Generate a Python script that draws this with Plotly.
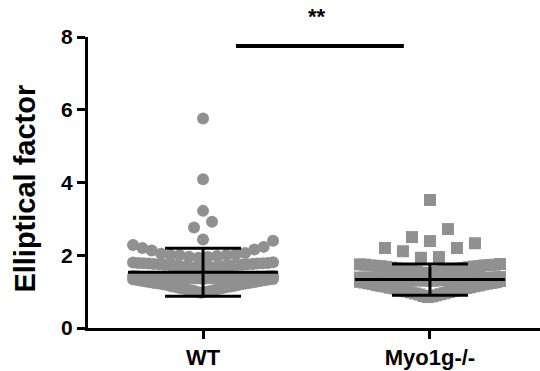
import plotly.graph_objects as go

# ---------------- data ----------------
categories = ["WT", "Myo1g-/-"]

wt_values = [
    0.97, 0.99, 1.00, 1.01, 1.03, 1.04, 1.05, 1.07, 1.08, 1.09, 1.10, 1.12,
    1.13, 1.14, 1.15, 1.16, 1.18, 1.19, 1.20, 1.21, 1.22, 1.23, 1.24, 1.25,
    1.26, 1.27, 1.28, 1.29, 1.30, 1.31, 1.32, 1.33, 1.34, 1.35,
    1.36, 1.36, 1.36, 1.37, 1.37, 1.37, 1.37, 1.38, 1.38, 1.38, 1.38, 1.38,
    1.39, 1.39, 1.39, 1.39, 1.39, 1.40, 1.40, 1.40, 1.40, 1.40, 1.41, 1.41,
    1.41, 1.41, 1.42, 1.42, 1.43, 1.43,
    1.64, 1.65, 1.66, 1.67, 1.68, 1.68, 1.69, 1.70, 1.70, 1.71, 1.72, 1.72,
    1.73, 1.73, 1.74, 1.74, 1.75, 1.75, 1.76, 1.76, 1.77, 1.77, 1.78, 1.78,
    1.79, 1.79, 1.80, 1.81,
    1.93, 1.95, 1.96, 1.98, 2.00, 2.00, 2.01, 2.02, 2.04, 2.06, 2.13, 2.16,
    2.20, 2.23, 2.28, 2.40,
    2.43, 2.76, 2.92, 3.22, 4.09, 5.76,
]

myo_values = [
    0.85, 0.87, 0.88, 0.90, 0.92, 0.93, 0.95, 0.96, 0.98, 0.99, 1.01, 1.02,
    1.03, 1.05, 1.06, 1.07, 1.09, 1.10, 1.11, 1.12, 1.14, 1.15, 1.16, 1.17,
    1.18, 1.20, 1.21, 1.22, 1.23, 1.24, 1.25, 1.26, 1.27, 1.29,
    1.30, 1.30, 1.31, 1.31, 1.31, 1.32, 1.32, 1.32, 1.33, 1.33, 1.33, 1.34,
    1.34, 1.34, 1.35, 1.35, 1.35, 1.35, 1.36, 1.36, 1.36, 1.37, 1.37, 1.37,
    1.38, 1.38, 1.38, 1.39, 1.39, 1.40,
    1.50, 1.51, 1.52, 1.54, 1.55, 1.56, 1.58, 1.59, 1.60, 1.61, 1.62, 1.63,
    1.64, 1.65, 1.66, 1.67, 1.68, 1.69, 1.70, 1.70, 1.71, 1.72, 1.72, 1.73,
    1.74, 1.74, 1.75, 1.76,
    1.93, 1.95, 2.11, 2.20, 2.20, 2.33,
    2.39, 2.50, 2.72,
    3.52,
]

mean_vals = [1.53, 1.33]
sd_vals = [0.66, 0.43]
y_tick_vals = [0, 2, 4, 6, 8]
y_tick_text = ["0", "2", "4", "6", "8"]
sig_label = "**"
sig_level = 7.75

# ---------------- layout parameters ----------------
W, H = 540, 371
M_L, M_R, M_T, M_B = 88, 0, 37, 43
X_RANGE = [-0.507, 1.485]
Y_RANGE = [0, 8]
PX_PER_X = (W - M_L - M_R) / (X_RANGE[1] - X_RANGE[0])

GRAY = "#909090"
FONT = "Liberation Sans, Arial, sans-serif"
ROW_WIDTH_PX = 140.0
MAX_STEP_PX = 18.0
wt_row_edges = [0.9, 1.355, 1.5, 1.9, 2.415, 2.6, 3.1, 3.6, 5.0, 7.0]
myo_row_edges = [0.8, 1.295, 1.45, 1.9, 2.35, 2.8, 4.0]


def swarm_offsets(values, edges):
    """Column-scatter layout: points binned in rows, lowest values in the middle."""
    offs = [0.0] * len(values)
    order = sorted(range(len(values)), key=lambda i: values[i])
    for lo, hi in zip(edges[:-1], edges[1:]):
        members = [i for i in order if lo <= values[i] < hi]
        n = len(members)
        if n == 0:
            continue
        step = MAX_STEP_PX if n == 1 else min(MAX_STEP_PX, ROW_WIDTH_PX / (n - 1))
        for k, i in enumerate(members):
            if n % 2 == 1:
                pos = ((k + 1) // 2) * (-1 if k % 2 == 1 else 1)
            else:
                pos = (k // 2 + 0.5) * (-1 if k % 2 == 0 else 1)
            offs[i] = pos * step / PX_PER_X
    return offs


fig = go.Figure()

groups = [
    (wt_values, wt_row_edges, "circle"),
    (myo_values, myo_row_edges, "square"),
]
for ci, (vals, edges, sym) in enumerate(groups):
    offs = swarm_offsets(vals, edges)
    fig.add_trace(go.Scatter(
        x=[ci + o for o in offs], y=vals, mode="markers",
        marker=dict(symbol=sym, size=12, color=GRAY, line=dict(width=0)),
        showlegend=False, hoverinfo="skip", cliponaxis=False,
    ))

MEAN_HALF = 75.0 / PX_PER_X
CAP_HALF = 38.0 / PX_PER_X
for ci, (m, s) in enumerate(zip(mean_vals, sd_vals)):
    xs = [ci - MEAN_HALF, ci + MEAN_HALF, None,
          ci, ci, None,
          ci - CAP_HALF, ci + CAP_HALF, None,
          ci - CAP_HALF, ci + CAP_HALF]
    ys = [m, m, None,
          m - s, m + s, None,
          m + s, m + s, None,
          m - s, m - s]
    fig.add_trace(go.Scatter(
        x=xs, y=ys, mode="lines", line=dict(color="black", width=3),
        showlegend=False, hoverinfo="skip", cliponaxis=False,
    ))

# significance bar
fig.add_shape(type="line", xref="x", yref="y", x0=0.145, x1=0.885,
              y0=sig_level, y1=sig_level, line=dict(color="black", width=4))
fig.add_annotation(x=0.5, xref="x", y=1.07, yref="paper", text="<b>" + sig_label + "</b>",
                   showarrow=False, xanchor="center", yanchor="middle",
                   font=dict(family=FONT, size=22, color="black"))

# y-axis title
fig.add_annotation(x=(25 - M_L) / (W - M_L - M_R), xref="paper", y=0.479, yref="paper",
                   text="<b>Elliptical factor</b>", textangle=-90, showarrow=False,
                   xanchor="center", yanchor="middle",
                   font=dict(family=FONT, size=29, color="black"))

axis_common = dict(showline=True, linewidth=3, linecolor="black", ticks="outside",
                   ticklen=8, tickwidth=3, tickcolor="black", showgrid=False,
                   zeroline=False, fixedrange=True)

fig.update_layout(
    width=W, height=H,
    margin=dict(l=M_L, r=M_R, t=M_T, b=M_B, pad=0),
    plot_bgcolor="white", paper_bgcolor="white",
    xaxis=dict(range=X_RANGE, tickvals=[0, 1],
               ticktext=["<b>" + c + "</b>" for c in categories],
               tickfont=dict(family=FONT, size=22, color="black"),
               **axis_common),
    yaxis=dict(range=Y_RANGE, tickvals=y_tick_vals,
               ticktext=["<b>" + t + "</b>" for t in y_tick_text],
               tickfont=dict(family=FONT, size=21, color="black"),
               **axis_common),
)

fig.write_html(
    "out.html",
    config={"displayModeBar": False},
    post_script="document.body.style.margin='0';document.body.style.padding='0';"
                "document.documentElement.style.overflow='hidden';",
)
